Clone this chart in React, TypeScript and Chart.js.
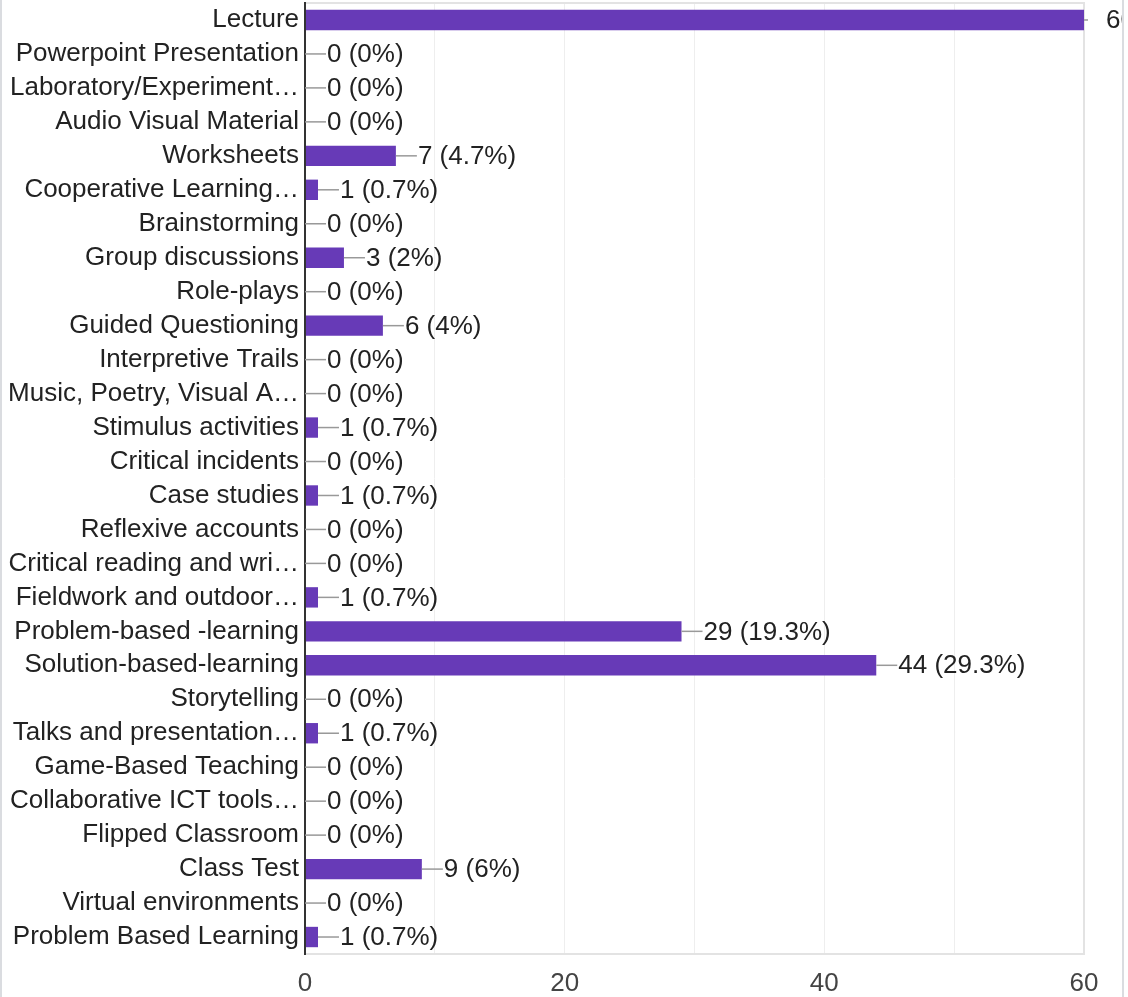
import React, { useEffect, useRef } from "react";
import { Chart, registerables } from "chart.js";

Chart.register(...registerables);

const categories: string[] = [
  "Lecture",
  "Powerpoint Presentation",
  "Laboratory/Experiment…",
  "Audio Visual Material",
  "Worksheets",
  "Cooperative Learning…",
  "Brainstorming",
  "Group discussions",
  "Role-plays",
  "Guided Questioning",
  "Interpretive Trails",
  "Music, Poetry, Visual A…",
  "Stimulus activities",
  "Critical incidents",
  "Case studies",
  "Reflexive accounts",
  "Critical reading and wri…",
  "Fieldwork and outdoor…",
  "Problem-based -learning",
  "Solution-based-learning",
  "Storytelling",
  "Talks and presentation…",
  "Game-Based Teaching",
  "Collaborative ICT tools…",
  "Flipped Classroom",
  "Class Test",
  "Virtual environments",
  "Problem Based Learning",
];

const counts: number[] = [
  60, 0, 0, 0, 7, 1, 0, 3, 0, 6, 0, 0, 1, 0, 1, 0, 0, 1, 29, 44, 0, 1, 0, 0, 0, 9, 0, 1,
];

const respondents = 150;

const xTicks: number[] = [0, 20, 40, 60];

function pctLabel(v: number): string {
  const p = Math.round((v / respondents) * 1000) / 10;
  return `${v} (${p}%)`;
}

const FONT = "'Liberation Sans', Arial, sans-serif";
const SIZE = 26;

const valueLabelPlugin = {
  id: "valueLabels",
  afterDatasetsDraw(chart: any) {
    const { ctx, chartArea } = chart;
    const meta = chart.getDatasetMeta(0);
    ctx.save();
    meta.data.forEach((bar: any, i: number) => {
      const x = bar.x;
      const y = bar.y;
      const lineEnd = Math.min(x + 21, chartArea.right + 4);
      ctx.strokeStyle = "#999999";
      ctx.lineWidth = 1.5;
      ctx.beginPath();
      ctx.moveTo(x, y);
      ctx.lineTo(lineEnd, y);
      ctx.stroke();
      ctx.fillStyle = "#222222";
      ctx.font = `${SIZE}px ${FONT}`;
      ctx.textAlign = "left";
      ctx.textBaseline = "middle";
      ctx.fillText(pctLabel(counts[i]), x + 22, y + 1);
    });
    ctx.restore();
  },
};

const framePlugin = {
  id: "frame",
  beforeDatasetsDraw(chart: any) {
    const { ctx, chartArea } = chart;
    ctx.save();
    ctx.strokeStyle = "#e3e3e3";
    ctx.lineWidth = 2;
    ctx.strokeRect(chartArea.left, chartArea.top, chartArea.right - chartArea.left, chartArea.bottom - chartArea.top);
    ctx.restore();
  },
  afterDatasetsDraw(chart: any) {
    const { ctx, chartArea } = chart;
    ctx.save();
    ctx.strokeStyle = "#333333";
    ctx.lineWidth = 2;
    ctx.beginPath();
    ctx.moveTo(chartArea.left, chartArea.top - 1);
    ctx.lineTo(chartArea.left, chartArea.bottom + 1);
    ctx.stroke();
    ctx.restore();
  },
};

export default function App() {
  const ref = useRef<HTMLCanvasElement | null>(null);

  useEffect(() => {
    if (!ref.current) return;
    const chart = new Chart(ref.current, {
      type: "bar",
      data: {
        labels: categories,
        datasets: [
          {
            data: counts,
            backgroundColor: "#673ab7",
            borderWidth: 0,
            categoryPercentage: 1,
            barPercentage: 0.6,
          },
        ],
      },
      options: {
        indexAxis: "y",
        animation: false,
        responsive: false,
        maintainAspectRatio: false,
        layout: { padding: { top: 3, right: 38, left: 0, bottom: 0 } },
        plugins: {
          legend: { display: false },
          tooltip: { enabled: false },
        },
        scales: {
          x: {
            min: 0,
            max: 60,
            afterFit(scale: any) {
              scale.height = 43;
            },
            ticks: {
              stepSize: 10,
              padding: 14,
              color: "#444444",
              font: { family: FONT, size: SIZE },
              maxRotation: 0,
              autoSkip: false,
              callback: (v: any) => (xTicks.includes(Number(v)) ? String(v) : ""),
            },
            grid: { color: "#eeeeee", lineWidth: 1, drawTicks: false },
            border: { display: false },
          },
          y: {
            afterFit(scale: any) {
              scale.width = 303;
              scale.paddingTop = 0;
              scale.paddingBottom = 0;
            },
            ticks: {
              padding: 6,
              color: "#222222",
              font: { family: FONT, size: SIZE },
              autoSkip: false,
            },
            grid: { display: false, drawTicks: false },
            border: { display: false },
          },
        },
      },
      plugins: [framePlugin, valueLabelPlugin],
    });
    return () => chart.destroy();
  }, []);

  return (
    <div
      style={{
        position: "absolute",
        left: 0,
        top: 0,
        width: 1124,
        height: 997,
        boxSizing: "border-box",
        borderLeft: "2px solid #dadce0",
        borderRight: "2px solid #dadce0",
        background: "#ffffff",
        overflow: "hidden",
      }}
    >
      <canvas ref={ref} width={1120} height={997} style={{ display: "block" }} />
    </div>
  );
}
